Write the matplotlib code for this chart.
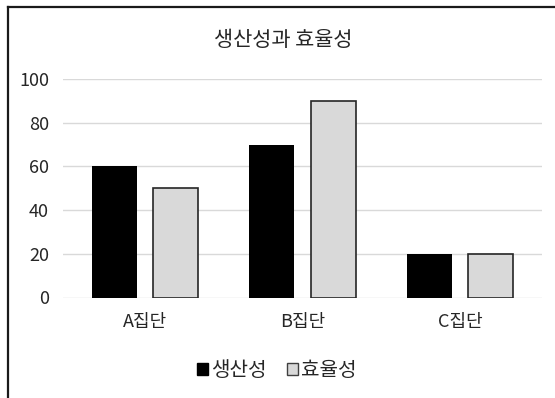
import matplotlib
matplotlib.use("Agg")
import matplotlib.pyplot as plt
from matplotlib.patches import Patch
from matplotlib.lines import Line2D
import numpy as np

plt.rcParams['font.family'] = ['Noto Sans CJK KR', 'DejaVu Sans']

categories = ['A집단', 'B집단', 'C집단']
productivity = [60, 70, 20]
efficiency = [50, 90, 20]
series_names = ['생산성', '효율성']
title = '생산성과 효율성'
yticks = [0, 20, 40, 60, 80, 100]

W, H = 555, 398
fig = plt.figure(figsize=(W / 100, H / 100), dpi=100)
ax = fig.add_axes([63 / W, 1 - 297.5 / H, (542 - 63) / W, (297.5 - 79) / H])

x = np.arange(len(categories))
bw = 0.285
off = 0.195
ax.bar(x - off, productivity, bw, color='black', edgecolor='black', linewidth=0, zorder=3)
ax.bar(x + off, efficiency, bw, color='#d9d9d9', edgecolor='#262626', linewidth=1.2, zorder=3)

ax.set_xlim(-0.52, 2.52)
ax.set_ylim(0, 100)
ax.set_yticks(yticks)
ax.set_xticks(x)
ax.set_xticklabels(categories)
ax.yaxis.grid(True, color='#d9d9d9', linewidth=1)
ax.set_axisbelow(True)
for s in ax.spines.values():
    s.set_visible(False)
ax.tick_params(axis='both', length=0, labelsize=13, colors='#262626')
ax.tick_params(axis='y', pad=10)
ax.tick_params(axis='x', pad=11)

fig.text(283 / W, 1 - 40 / H, title, ha='center', va='center', fontsize=15, color='#262626')

handles = [Patch(facecolor='black', edgecolor='black'),
           Patch(facecolor='#d9d9d9', edgecolor='#404040', linewidth=1)]
fig.legend(handles, series_names, loc='center', bbox_to_anchor=(277 / W, 1 - 371 / H),
           ncol=2, frameon=False, fontsize=14.5, handlelength=0.55, handleheight=0.55,
           handletextpad=0.15, columnspacing=1.0, labelcolor='#262626')

# outer frame
fig.add_artist(Line2D([8 / W, 1.0], [1 - 7 / H, 1 - 7 / H], transform=fig.transFigure, color='#1a1a1a', linewidth=1.6))
fig.add_artist(Line2D([8 / W, 8 / W], [0, 1 - 7 / H], transform=fig.transFigure, color='#1a1a1a', linewidth=1.6))

fig.savefig('out.png', dpi=100)
